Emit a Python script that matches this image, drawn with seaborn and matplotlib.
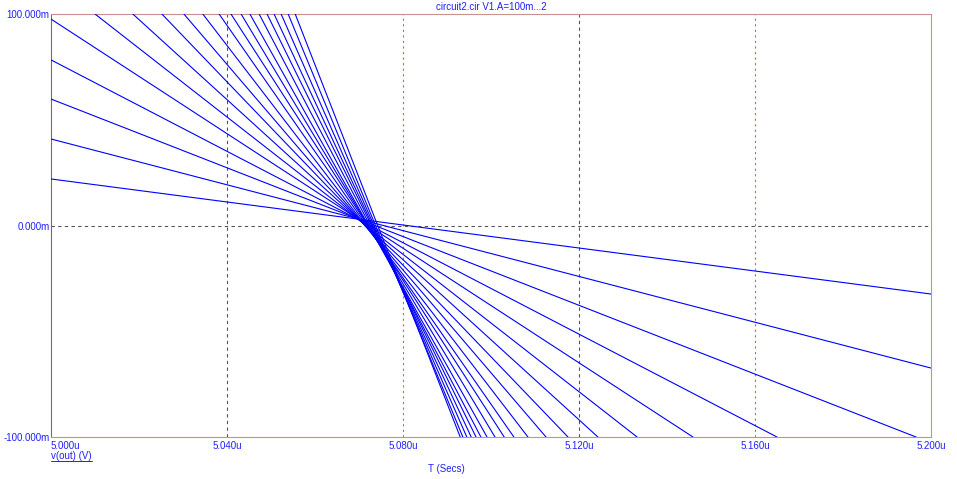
import numpy as np
import pandas as pd
import matplotlib
matplotlib.use("Agg")
import matplotlib.pyplot as plt
import seaborn as sns
from matplotlib.lines import Line2D

# sweep V1.A = 100m ... 2 (20 curves)
# each curve: start point (t, v) and end point (t, v); t in us, v in mV
amp = [0.1 * (i + 1) for i in range(20)]
t_start = [5.000, 5.000, 5.000, 5.000, 5.000,
           5.0100, 5.0186, 5.0252, 5.0302, 5.0345,
           5.0382, 5.0409, 5.0432, 5.0452, 5.0473,
           5.0491, 5.0507, 5.0523, 5.0539, 5.0555]
v_start = [22.0, 40.9, 59.8, 78.3, 97.6] + [100.0] * 15
t_end = [5.200, 5.200, 5.1966, 5.1650, 5.1459,
         5.1332, 5.1243, 5.1175, 5.1125, 5.1084,
         5.1052, 5.1030, 5.1009, 5.0991, 5.0977,
         5.0966, 5.0955, 5.0945, 5.0936, 5.0930]
v_end = [-32.4, -67.4] + [-100.0] * 18

x_ticks = [5.000, 5.040, 5.080, 5.120, 5.160, 5.200]
x_labels = ["5.000u", "5.040u", "5.080u", "5.120u", "5.160u", "5.200u"]
y_ticks = [-100.0, 0.0, 100.0]
y_labels = ["-100.000m", "0.000m", "100.000m"]

rows = []
for i in range(len(amp)):
    rows.append((i, t_start[i], v_start[i]))
    rows.append((i, t_end[i], v_end[i]))
df = pd.DataFrame(rows, columns=["line", "t", "v"])

sns.set_style("white")
plt.rcParams['font.family'] = ['Liberation Sans', 'DejaVu Sans']

blue_txt = "#2020ff"
fig = plt.figure(figsize=(9.57, 4.79), dpi=100)
ax = fig.add_axes([51 / 957, 42 / 479, 880 / 957, 423 / 479])

# grid lines (alternating dark gray / red like the original)
for x in [5.040, 5.120]:
    ax.axvline(x, color="#555555", lw=0.8, ls=(0, (3, 3)), zorder=1)
for x in [5.080, 5.160]:
    ax.axvline(x, color="#d06060", lw=0.8, ls=(0, (2, 3)), zorder=1)
ax.axhline(0.0, color="#555555", lw=0.8, ls=(0, (3, 3)), zorder=1)

sns.lineplot(data=df, x="t", y="v", units="line", estimator=None, sort=False,
             color="#0000ff", linewidth=0.8, legend=False, ax=ax, zorder=3)

ax.set_xlim(5.000, 5.200)
ax.set_ylim(-100.0, 100.0)
ax.set_xlabel("")
ax.set_ylabel("")

ax.set_xticks(x_ticks)
ax.set_xticklabels(x_labels)
ax.set_yticks(y_ticks)
ax.set_yticklabels(y_labels)
ax.tick_params(axis="both", length=0, labelsize=7, labelcolor=blue_txt)
ax.tick_params(axis="x", pad=3)
ax.tick_params(axis="y", pad=1)
ax.get_xticklabels()[0].set_horizontalalignment("left")

for name, sp in ax.spines.items():
    sp.set_visible(True)
    sp.set_linewidth(0.8)
    sp.set_linestyle((0, (1, 1)))
    sp.set_color("#c89090")
ax.spines["left"].set_color("#707070")

fig.text(491 / 957, 1 - 7 / 479, "circuit2.cir V1.A=100m...2", color=blue_txt,
         fontsize=7, ha="center", va="center")
fig.text(446 / 957, 1 - 469 / 479, "T (Secs)", color=blue_txt,
         fontsize=7, ha="center", va="center")
lab = fig.text(51 / 957, 1 - 456 / 479, "v(out) (V)", color=blue_txt,
               fontsize=7, ha="left", va="center")

# underline for the y-axis label
fig.canvas.draw()
bb = lab.get_window_extent().transformed(fig.transFigure.inverted())
fig.add_artist(Line2D([bb.x0, bb.x1], [bb.y0, bb.y0], transform=fig.transFigure,
                      color=blue_txt, lw=0.7))

fig.savefig("out.png", dpi=100, facecolor="white")
